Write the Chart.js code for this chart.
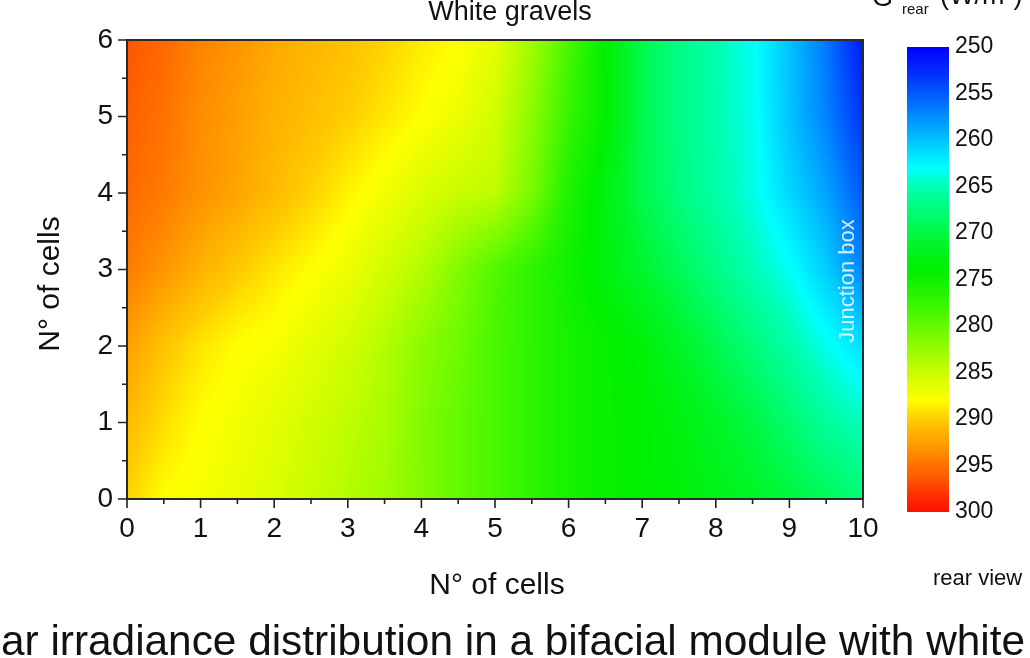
<!DOCTYPE html>
<html>
<head>
<meta charset="utf-8">
<script src="https://cdn.jsdelivr.net/npm/chart.js@4.4.1/dist/chart.umd.min.js"></script>
<style>
  html, body { margin: 0; padding: 0; background: #ffffff; }
  #wrap { position: relative; width: 1030px; height: 658px; overflow: hidden; }
  canvas { position: absolute; top: 0; }
</style>
</head>
<body>
<div id="wrap">
  <canvas id="main" width="1030" height="658" style="left:0"></canvas>
  <canvas id="cb" width="130" height="560" style="left:900px"></canvas>
</div>
<script>
// ---- data (G_rear in W/m², grid nodes) ----
const xCells = [0, 0.5, 1, 1.5, 2, 2.5, 3, 3.5, 4, 4.5, 5, 5.5, 6, 6.5, 7, 7.5, 8, 8.5, 9, 9.5, 10];
const yCells = [0, 1, 2, 3, 4, 5, 6];
const gRear_y0 = [289.8, 288.0, 287.5, 286.8, 286.0, 285.0, 284.0, 283.0, 281.5, 280.0, 278.5, 277.0, 275.5, 274.5, 274.0, 273.5, 272.5, 271.5, 270.3, 269.0, 267.8];
const gRear_y1 = [291.0, 289.3, 288.0, 287.3, 286.5, 285.5, 284.5, 283.5, 281.5, 280.0, 278.5, 277.0, 275.5, 274.5, 274.0, 273.0, 271.5, 270.0, 268.0, 266.0, 264.8];
const gRear_y2 = [292.5, 290.5, 289.0, 288.0, 287.5, 286.5, 285.5, 284.0, 282.0, 280.5, 278.5, 277.0, 275.5, 274.5, 273.5, 271.5, 269.5, 267.5, 265.5, 263.5, 261.5];
const gRear_y3 = [294.5, 293.0, 291.5, 290.2, 289.0, 288.0, 287.0, 285.5, 284.0, 281.5, 279.0, 277.0, 275.0, 273.0, 271.0, 269.0, 267.0, 265.0, 263.3, 260.5, 257.0];
const gRear_y4 = [295.5, 294.5, 293.2, 292.2, 291.0, 289.8, 288.5, 287.3, 286.0, 285.0, 284.5, 281.0, 276.0, 273.0, 269.5, 267.3, 265.5, 263.8, 261.0, 258.5, 255.0];
const gRear_y5 = [296.0, 295.0, 293.5, 292.5, 291.5, 290.8, 290.0, 289.0, 288.0, 287.0, 285.5, 282.0, 277.5, 274.0, 269.5, 267.0, 265.3, 263.5, 260.0, 257.0, 253.0];
const gRear_y6 = [296.5, 295.5, 294.0, 293.0, 292.0, 291.3, 290.7, 289.8, 288.8, 288.0, 286.5, 283.0, 278.5, 274.0, 269.5, 267.0, 265.2, 263.3, 260.0, 256.5, 251.5];
const gRows = [gRear_y0, gRear_y1, gRear_y2, gRear_y3, gRear_y4, gRear_y5, gRear_y6];

// colour bar range and colour map stops
const colorbarMin = 250, colorbarMax = 300, colorbarStep = 5;
const cmapValues = [250, 253, 256, 260, 263, 265, 268, 271, 274, 277, 280, 285, 288, 290, 293, 296, 298, 300];
const cmapColors = [
  [0,0,255],[0,50,250],[0,110,255],[0,195,255],[0,255,255],[0,255,180],[0,252,110],[0,246,45],
  [0,240,0],[45,244,0],[100,250,0],[200,253,0],[255,255,0],[255,205,0],[255,150,0],[255,95,0],[255,50,0],[255,15,0]
];

const FONT = '"Liberation Sans", Arial, Helvetica, sans-serif';

function colorFor(v) {
  if (v <= cmapValues[0]) return cmapColors[0];
  const n = cmapValues.length;
  if (v >= cmapValues[n-1]) return cmapColors[n-1];
  for (let i = 0; i < n - 1; i++) {
    if (v <= cmapValues[i+1]) {
      const t = (v - cmapValues[i]) / (cmapValues[i+1] - cmapValues[i]);
      const a = cmapColors[i], b = cmapColors[i+1];
      return [a[0] + (b[0]-a[0])*t, a[1] + (b[1]-a[1])*t, a[2] + (b[2]-a[2])*t];
    }
  }
  return cmapColors[n-1];
}

function findIndex(arr, v) {
  if (v <= arr[0]) return [0, 0];
  for (let i = 0; i < arr.length - 1; i++) {
    if (v <= arr[i+1]) return [i, (v - arr[i]) / (arr[i+1] - arr[i])];
  }
  return [arr.length - 2, 1];
}

function sample(xv, yv) {
  const [i, tx] = findIndex(xCells, xv);
  const [j, ty] = findIndex(yCells, yv);
  const r0 = gRows[j], r1 = gRows[Math.min(j+1, gRows.length-1)];
  const a = r0[i] + (r0[i+1] - r0[i]) * tx;
  const b = r1[i] + (r1[i+1] - r1[i]) * tx;
  return a + (b - a) * ty;
}

const heatmapPlugin = {
  id: 'heatmap',
  beforeDatasetsDraw(chart) {
    const { ctx, chartArea: a, scales: { x, y } } = chart;
    const L = Math.round(a.left), T = Math.round(a.top);
    const w = Math.round(a.right) - L, h = Math.round(a.bottom) - T;
    const img = ctx.createImageData(w, h);
    const xs = new Array(w);
    for (let i = 0; i < w; i++) xs[i] = x.getValueForPixel(L + i + 0.5);
    for (let j = 0; j < h; j++) {
      const yv = y.getValueForPixel(T + j + 0.5);
      for (let i = 0; i < w; i++) {
        const c = colorFor(sample(xs[i], yv));
        const k = (j * w + i) * 4;
        img.data[k] = c[0]; img.data[k+1] = c[1]; img.data[k+2] = c[2]; img.data[k+3] = 255;
      }
    }
    ctx.putImageData(img, L, T);
  },
  afterDatasetsDraw(chart) {
    const { ctx, chartArea: a, scales: { x, y } } = chart;
    ctx.save();
    // frame
    ctx.strokeStyle = '#2a2a2a';
    ctx.lineWidth = 2;
    ctx.strokeRect(a.left, a.top, a.right - a.left, a.bottom - a.top);
    // ticks
    ctx.lineWidth = 1.6;
    ctx.strokeStyle = '#222';
    ctx.beginPath();
    x.ticks.forEach(t => {
      const px = x.getPixelForValue(t.value);
      const len = Number.isInteger(t.value) ? 9 : 5;
      ctx.moveTo(px, a.bottom); ctx.lineTo(px, a.bottom + len);
    });
    y.ticks.forEach(t => {
      const py = y.getPixelForValue(t.value);
      const len = Number.isInteger(t.value) ? 9 : 5;
      ctx.moveTo(a.left, py); ctx.lineTo(a.left - len, py);
    });
    ctx.stroke();

    // "Junction box" label
    ctx.save();
    ctx.translate(848, 281);
    ctx.rotate(-Math.PI / 2);
    ctx.fillStyle = 'rgba(235,245,255,0.9)';
    ctx.font = '22px ' + FONT;
    ctx.textAlign = 'center';
    ctx.textBaseline = 'middle';
    ctx.fillText('Junction box', 0, 0);
    ctx.restore();

    ctx.fillStyle = '#111';
    // axis titles
    ctx.font = '30px ' + FONT;
    ctx.textAlign = 'center';
    ctx.textBaseline = 'alphabetic';
    ctx.fillText('N° of cells', 497, 594);
    ctx.save();
    ctx.translate(59, 284);
    ctx.rotate(-Math.PI / 2);
    ctx.fillText('N° of cells', 0, 0);
    ctx.restore();

    // chart title (cut at top in the reference)
    ctx.font = '27px ' + FONT;
    ctx.fillText('White gravels', 510, 20);

    // colour bar title (cut at top)
    ctx.textAlign = 'left';
    ctx.font = '27px ' + FONT;
    ctx.fillText('G', 872, 6);
    ctx.font = '15px ' + FONT;
    ctx.fillText('rear', 902, 14);
    ctx.font = '27px ' + FONT;
    ctx.fillText('(W/m²)', 940, 4);

    // rear view
    ctx.font = '22px ' + FONT;
    ctx.fillText('rear view', 933, 585);

    // caption (cut at left in the reference)
    ctx.font = '42px ' + FONT;
    const cap = 'ar irradiance distribution in a bifacial module with white';
    const cw = ctx.measureText(cap).width;
    ctx.save();
    ctx.translate(1, 655);
    ctx.scale(1024 / cw, 1);
    ctx.fillText(cap, 0, 0);
    ctx.restore();
    ctx.restore();
  }
};

const gridPoints = [];
yCells.forEach((yv, j) => xCells.forEach((xv, i) => gridPoints.push({ x: xv, y: yv, g: gRows[j][i] })));

new Chart(document.getElementById('main'), {
  type: 'scatter',
  data: { datasets: [{ data: gridPoints, pointRadius: 0, pointHoverRadius: 0 }] },
  options: {
    responsive: false,
    animation: false,
    events: [],
    layout: { padding: { left: 0, top: 40, right: 167, bottom: 0 } },
    plugins: { legend: { display: false }, tooltip: { enabled: false } },
    scales: {
      x: {
        type: 'linear', min: 0, max: 10,
        afterFit(s) { s.height = 658 - 499; },
        ticks: {
          stepSize: 0.5, autoSkip: false, maxRotation: 0, padding: 13,
          callback: v => Number.isInteger(v) ? String(v) : '',
          font: { family: FONT, size: 28 }, color: '#111'
        },
        grid: { display: false, drawTicks: false },
        border: { display: false }
      },
      y: {
        type: 'linear', min: 0, max: 6,
        afterFit(s) { s.width = 127; },
        ticks: {
          stepSize: 0.5, autoSkip: false, padding: 14,
          callback: v => Number.isInteger(v) ? String(v) : '',
          font: { family: FONT, size: 28 }, color: '#111'
        },
        grid: { display: false, drawTicks: false },
        border: { display: false }
      }
    }
  },
  plugins: [heatmapPlugin]
});

const colorbarPlugin = {
  id: 'colorbar',
  beforeDatasetsDraw(chart) {
    const { ctx, chartArea: a, scales: { y } } = chart;
    for (let py = Math.floor(a.top); py < Math.ceil(a.bottom); py++) {
      const c = colorFor(y.getValueForPixel(py + 0.5));
      ctx.fillStyle = 'rgb(' + c.map(Math.round).join(',') + ')';
      ctx.fillRect(a.left, py, a.right - a.left, 1);
    }
  }
};

new Chart(document.getElementById('cb'), {
  type: 'scatter',
  data: { datasets: [{ data: [], pointRadius: 0 }] },
  options: {
    responsive: false,
    animation: false,
    events: [],
    layout: { padding: { left: 7, top: 47, bottom: 48, right: 0 } },
    plugins: { legend: { display: false }, tooltip: { enabled: false } },
    scales: {
      x: { type: 'linear', display: false, min: 0, max: 1 },
      y: {
        type: 'linear', position: 'right', min: colorbarMin, max: colorbarMax, reverse: true,
        afterFit(s) { s.width = 130 - 49; },
        ticks: { stepSize: colorbarStep, padding: 6, font: { family: FONT, size: 23 }, color: '#111' },
        grid: { display: false, drawTicks: false },
        border: { display: false }
      }
    }
  },
  plugins: [colorbarPlugin]
});
</script>
</body>
</html>
